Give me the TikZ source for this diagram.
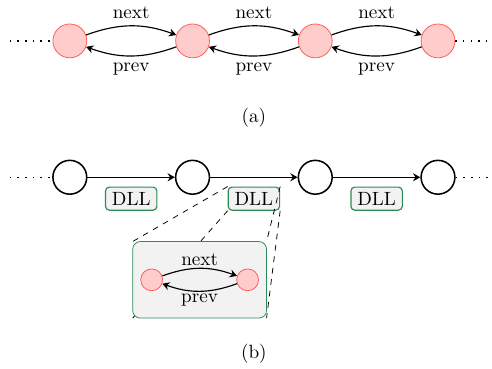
\documentclass[tikz,border=0pt]{standalone}
\usepackage{amsmath}
\usepackage{tikz}
\usetikzlibrary{arrows.meta}

\definecolor{dllgreen}{RGB}{46,139,87}

\begin{document}
\begin{tikzpicture}[>={Stealth[length = 3.8pt, width = 4.2pt, inset = 1.3pt]},
		elem/.style = {circle, draw = red!65, fill = red!20, minimum size = 0.62cm, inner sep = 0},
		smallelem/.style = {circle, draw = red!65, fill = red!20, minimum size = 0.4cm, inner sep = 0},
		blk/.style = {circle, draw, thick, minimum size = 0.62cm, inner sep = 0},
		dll/.style = {draw = dllgreen, fill = gray!10, rounded corners = 2pt, inner ysep = 2.6pt},
		dots/.style = {thick, dash pattern = on \pgflinewidth off 3.2pt},
		link/.style = {->, semithick}]
				\useasboundingbox (-1.28,0.75) rectangle (7.74,-6.01);
				% (a) linked elements
				\node [elem] (t1) at (0,0) {};
				\node [elem] (t2) at (2.25,0) {};
				\node [elem] (t3) at (4.5,0) {};
				\node [elem] (t4) at (6.75,0) {};
				\coordinate (tl) at (-1.1,0);
				\coordinate (tr) at (7.66,0);
				\draw [dots] (tl) -- (t1);
				\draw [dots] (t4) -- (tr);
				\draw [link] (t1) to [bend left = 20] node [above]{next} (t2);
				\draw [link] (t2) to [bend left = 20] node [below]{prev} (t1);
				\draw [link] (t2) to [bend left = 20] node [above]{next} (t3);
				\draw [link] (t3) to [bend left = 20] node [below]{prev} (t2);
				\draw [link] (t3) to [bend left = 20] node [above]{next} (t4);
				\draw [link] (t4) to [bend left = 20] node [below]{prev} (t3);
				\node (capa) at (3.375,-1.4){(a)};
				% (b) blocks
				\node [blk] (b1) at (0,-2.5) {};
				\node [blk] (b2) at (2.25,-2.5) {};
				\node [blk] (b3) at (4.5,-2.5) {};
				\node [blk] (b4) at (6.75,-2.5) {};
				\coordinate (bl) at (-1.1,-2.5);
				\coordinate (br) at (7.66,-2.5);
				\draw [dots] (bl) -- (b1);
				\draw [dots] (b4) -- (br);
				\draw [link] (b1) -- node [dll, below = 0.17cm] (d1){DLL} (b2);
				\draw [link] (b2) -- node [dll, below = 0.17cm] (d2){DLL} (b3);
				\draw [link] (b3) -- node [dll, below = 0.17cm] (d3){DLL} (b4);
				% blow-up of the middle DLL
				\node [minimum width = 2.44cm, minimum height = 1.39cm] (zoom) at (2.38,-4.38) {};
				\draw [dashed] (d2.north west) -- (zoom.north west)
					(d2.south west) -- (zoom.south west)
					(d2.north east) -- (zoom.north east)
					(d2.south east) -- (zoom.south east);
				\draw [draw = dllgreen, fill = gray!10, rounded corners = 4pt] (zoom.south west) rectangle (zoom.north east);
				\node [smallelem] (s1) at (1.5,-4.38) {};
				\node [smallelem] (s2) at (3.26,-4.38) {};
				\draw [link] (s1) to [bend left = 20] node [above, inner sep = 1pt]{next} (s2);
				\draw [link] (s2) to [bend left = 20] node [below, inner sep = 1pt]{prev} (s1);
				\node (capb) at (3.375,-5.74){(b)};
		\end{tikzpicture}
\end{document}
